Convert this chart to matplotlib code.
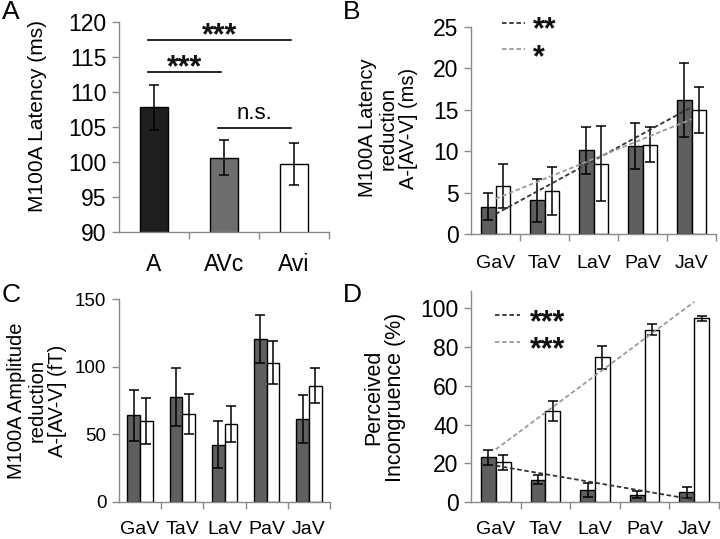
import matplotlib
matplotlib.use('Agg')
import matplotlib.pyplot as plt
import numpy as np

plt.rcParams['font.family'] = ['Liberation Sans', 'DejaVu Sans']

# Панель A: латентність M100A по умовах
cond_a = ['A', 'AVc', 'Avi']
lat_a = [107.8, 100.6, 99.7]
lat_a_err = [3.2, 2.5, 3.0]
sig_pairs_a = [(0, 2), (0, 1), (1, 2)]
sig_y_a = [117.4, 112.9, 104.9]
sig_txt_a = ['***', '***', 'n.s.']

vowels = ['GaV', 'TaV', 'LaV', 'PaV', 'JaV']

# Панель B: зменшення латентності
lat_red_dark = [3.3, 4.1, 10.1, 10.6, 16.2]
lat_red_dark_err = [1.6, 2.6, 2.8, 2.8, 4.5]
lat_red_white = [5.8, 5.2, 8.5, 10.8, 15.0]
lat_red_white_err = [2.6, 2.9, 4.5, 2.1, 2.8]
sig_b = ['**', '*']

# Панель C: зменшення амплітуди
amp_dark = [64.0, 77.6, 42.4, 120.4, 61.3]
amp_dark_err = [19.0, 21.5, 17.5, 18.0, 18.0]
amp_white = [59.6, 65.0, 57.6, 103.0, 86.0]
amp_white_err = [17.0, 14.5, 13.0, 15.7, 12.7]

# Панель D: сприйнята неконгруентність
incong_dark = [23.1, 11.6, 6.4, 3.8, 5.0]
incong_dark_err = [3.9, 2.1, 3.6, 1.7, 2.8]
incong_white = [20.5, 47.2, 74.8, 89.1, 94.8]
incong_white_err = [3.8, 5.1, 6.0, 2.8, 1.5]
sig_d = ['***', '***']

W, H = 720, 539
SPINE = '#8a8a8a'
DARK = '#5f5f5f'
TREND_DARK = '#333333'
TREND_LIGHT = '#9a9a9a'
ERR_KW = dict(ecolor='black', elinewidth=1.1, capsize=3.5, capthick=1.1)
STAR_KW = dict(fontsize=22, fontweight='bold', color='#111111')


def axes_px(fig, x0, y_top, x1, y_bot):
    return fig.add_axes([x0 / W, 1 - y_bot / H, (x1 - x0) / W, (y_bot - y_top) / H])


def style_axis(ax, n, ylim, yticks, ytick_fs, xtick_fs, xpad):
    ax.set_xlim(-0.5, n - 0.5)
    ax.set_ylim(*ylim)
    ax.set_yticks(yticks)
    ax.set_xticks(range(n))
    ax.set_xticks(np.arange(n) + 0.5, minor=True)
    ax.tick_params(axis='x', which='major', length=0, pad=xpad, labelsize=xtick_fs)
    ax.tick_params(axis='x', which='minor', length=5, color=SPINE, width=1)
    ax.tick_params(axis='y', length=5, color=SPINE, width=1, labelsize=ytick_fs, pad=4)
    for s in ['top', 'right']:
        ax.spines[s].set_visible(False)
    for s in ['left', 'bottom']:
        ax.spines[s].set_color(SPINE)
        ax.spines[s].set_linewidth(1)


def paired_bars(ax, dark, dark_err, white, white_err, width):
    x = np.arange(len(dark))
    ax.bar(x - width / 2, dark, width, yerr=dark_err, color=DARK,
           edgecolor='black', linewidth=1, error_kw=ERR_KW, zorder=2)
    ax.bar(x + width / 2, white, width, yerr=white_err, color='white',
           edgecolor='black', linewidth=1, error_kw=ERR_KW, zorder=2)
    return x


def trend(ax, x, y, color):
    k, b = np.polyfit(x, y, 1)
    ax.plot(x, k * x + b, ls=(0, (2.5, 1.5)), color=color, lw=1.3, zorder=3)


def legend_manual(ax, ys, colors, labels, x0, x1, xt):
    # короткі пунктирні лінії + зірочки одним двохрядковим текстом
    for y, c in zip(ys, colors):
        ax.plot([x0, x1], [y, y], transform=ax.transAxes, ls=(0, (2.5, 1.5)),
                color=c, lw=1.3, clip_on=False)
    ax.annotate('\n'.join(labels), xy=(xt, sum(ys) / 2), xycoords='axes fraction',
                xytext=(0, -6), textcoords='offset points', ha='left', va='center',
                linespacing=0.88, annotation_clip=False, **STAR_KW)


fig = plt.figure(figsize=(W / 100, H / 100), dpi=100)

# ---------- A ----------
axA = axes_px(fig, 119, 22, 329, 232)
xa = np.arange(len(cond_a))
axA.bar(xa, lat_a, 0.4, yerr=lat_a_err, color=['#1e1e1e', '#6e6e6e', 'white'],
        edgecolor='black', linewidth=1, error_kw=ERR_KW, zorder=2)
style_axis(axA, 3, (90, 120), range(90, 121, 5), 16.5, 16.5, 15)
axA.set_xticklabels(cond_a)
for (i, j), y, t in zip(sig_pairs_a, sig_y_a, sig_txt_a):
    axA.plot([i - 0.09, j - 0.04], [y, y], color='black', lw=1.2, clip_on=False)
    mid = (i - 0.09 + j - 0.04) / 2
    if t == 'n.s.':
        axA.annotate(t, xy=(mid, y), xytext=(0, 6), textcoords='offset points',
                     ha='center', va='baseline', fontsize=16, annotation_clip=False)
    else:
        axA.annotate(t, xy=(mid, y), xytext=(0, -3), textcoords='offset points',
                     ha='center', va='baseline', annotation_clip=False, **STAR_KW)

# ---------- B ----------
axB = axes_px(fig, 471, 27, 716, 234)
xb = paired_bars(axB, lat_red_dark, lat_red_dark_err, lat_red_white, lat_red_white_err, 0.29)
trend(axB, xb, lat_red_dark, TREND_DARK)
trend(axB, xb, lat_red_white, TREND_LIGHT)
style_axis(axB, 5, (0, 25), range(0, 26, 5), 16.5, 14, 15)
axB.set_xticklabels(vowels)
legend_manual(axB, [1.02, 0.894], [TREND_DARK, TREND_LIGHT], sig_b, 0.127, 0.22, 0.253)

# ---------- C ----------
axC = axes_px(fig, 119, 299, 330, 502)
paired_bars(axC, amp_dark, amp_dark_err, amp_white, amp_white_err, 0.3)
style_axis(axC, 5, (0, 150), range(0, 151, 50), 13.5, 14, 14)
axC.set_xticklabels(vowels)

# ---------- D ----------
axD = axes_px(fig, 471, 291, 719, 502)
xd = paired_bars(axD, incong_dark, incong_dark_err, incong_white, incong_white_err, 0.3)
trend(axD, xd, incong_dark, TREND_DARK)
trend(axD, xd, incong_white, TREND_LIGHT)
style_axis(axD, 5, (0, 109), range(0, 101, 20), 16.5, 14, 14)
axD.set_xticklabels(vowels)
legend_manual(axD, [0.884, 0.760], [TREND_DARK, TREND_LIGHT], sig_d, 0.097, 0.198, 0.238)

# підписи осей
fig.text(38 / W, 1 - 116 / H, 'M100A Latency (ms)', rotation=90, ha='center', va='center', fontsize=15)
fig.text(388 / W, 1 - 128 / H, 'M100A Latency\nreduction\nA-[AV-V] (ms)', rotation=90,
         ha='center', va='center', multialignment='center', fontsize=14.5, linespacing=1.1)
fig.text(37 / W, 1 - 401 / H, 'M100A Amplitude\nreduction\nA-[AV-V] (fT)', rotation=90,
         ha='center', va='center', multialignment='center', fontsize=14.5, linespacing=1.1)
fig.text(385 / W, 1 - 397 / H, 'Perceived\nIncongruence (%)', rotation=90,
         ha='center', va='center', multialignment='center', fontsize=15.5, linespacing=1.05)

# літери панелей
for lab, x, y in [('A', 2, 0), ('B', 343, 0), ('C', 2, 283), ('D', 343, 283)]:
    fig.text(x / W, 1 - y / H, lab, ha='left', va='top', fontsize=19)

fig.savefig('out.png', dpi=100)
